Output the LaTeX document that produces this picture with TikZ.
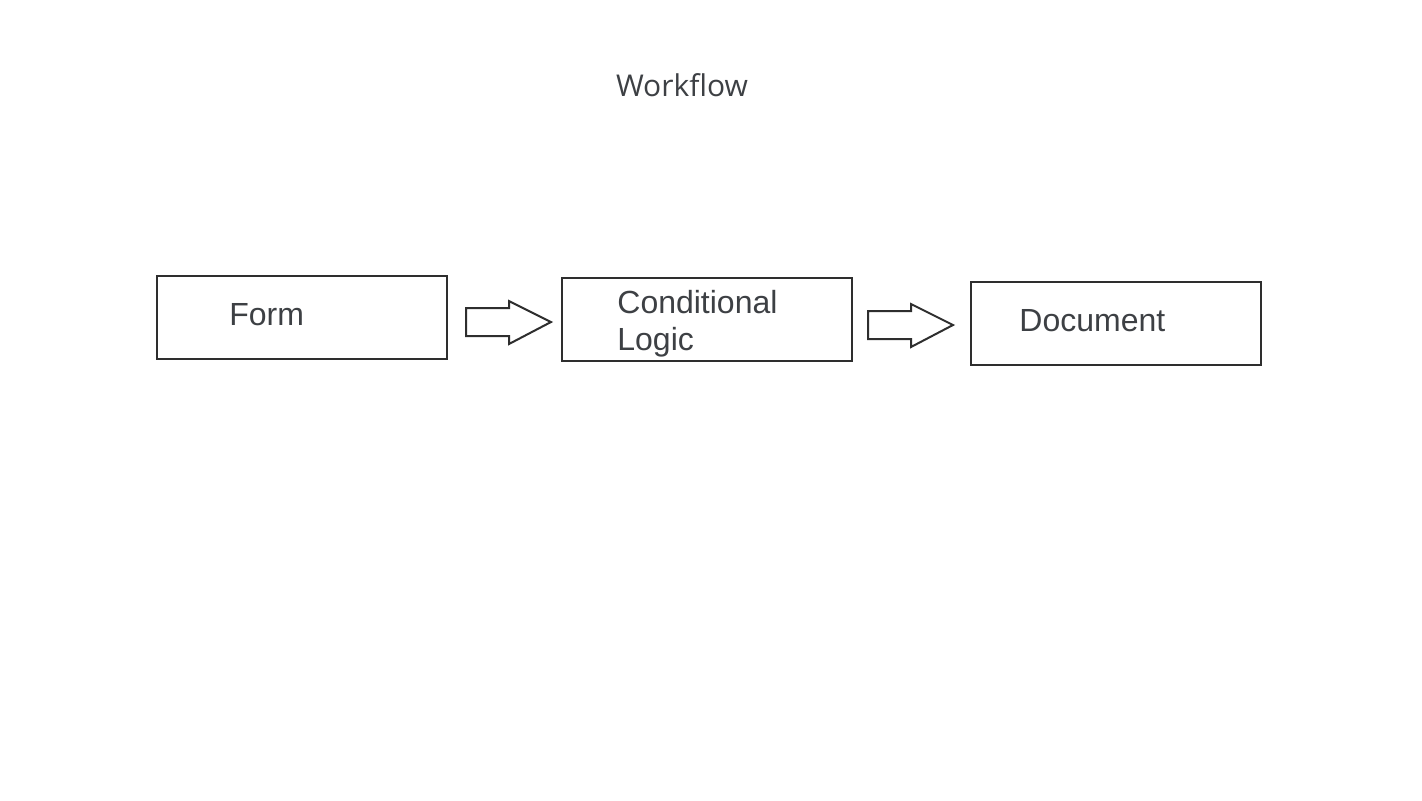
\documentclass[tikz,border=0pt]{standalone}
\usepackage{fontspec}
\setmainfont{Liberation Sans}
\newfontfamily\titlefont{Open Sans}
\definecolor{ink}{HTML}{2E2E2E}
\definecolor{txt}{HTML}{3D4044}
\begin{document}
\begin{tikzpicture}[x=0.5pt,y=-0.5pt,
  boxstyle/.style={draw=ink,line width=1pt,minimum width=145pt,minimum height=41.5pt,inner sep=0pt,anchor=north west},
  lbl/.style={text=txt,font=\fontsize{16pt}{18.5pt}\selectfont,inner sep=0pt,anchor=base west,align=left},
  arrowshape/.style={draw=ink,line width=1pt,fill=white,line join=miter}]
\useasboundingbox (0,0) rectangle (1422,800);
\node[text=txt,font=\titlefont\fontsize{15pt}{18pt}\selectfont,inner sep=0pt,anchor=base] (title) at (682,96) {Workflow};
\node[boxstyle] (form) at (156,275) {};
\node[boxstyle] (cond) at (561,277) {};
\node[boxstyle] (doc) at (970,281) {};
\node[lbl] (formt) at (229,325) {Form};
\node[lbl] (condt) at (617,350) {Conditional\\Logic};
\node[lbl] (doct) at (1019,331) {Document};
\draw[arrowshape] (466,308) -- (509,308) -- (509,301) -- (551,322) -- (509,344) -- (509,336) -- (466,336) -- cycle;
\draw[arrowshape] (868,311) -- (911,311) -- (911,304) -- (953,325) -- (911,347) -- (911,339) -- (868,339) -- cycle;
\end{tikzpicture}
\end{document}
